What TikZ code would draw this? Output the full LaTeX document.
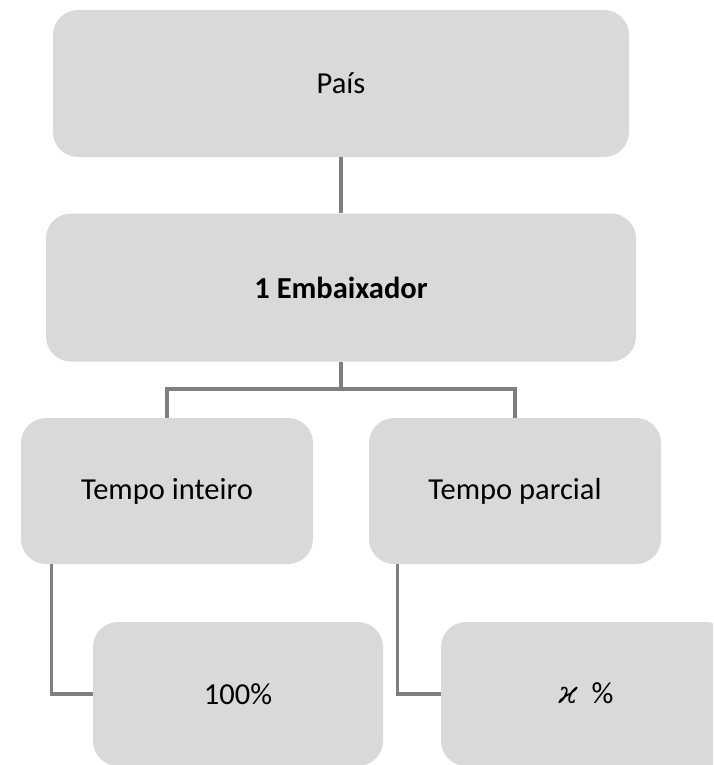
\documentclass[tikz,border=0pt]{standalone}
\usepackage{fontspec}
\setmainfont{Carlito}
\newfontfamily\kappafont{DejaVu Serif}
\definecolor{boxfill}{HTML}{D9D9D9}
\definecolor{linegray}{HTML}{7F7F7F}
\tikzset{
  orgbox/.style={fill=boxfill, draw=none, rounded corners=25pt, inner sep=0pt,
    font=\fontsize{30.5}{36}\selectfont, text=black},
  link/.style={draw=linegray, line width=3.2pt}
}
\begin{document}
\begin{tikzpicture}[x=1pt,y=-1pt]
\useasboundingbox (0,0) rectangle (713,765);
\clip (0,0) rectangle (713,765);
\node[orgbox, minimum width=576pt, minimum height=147pt] (pais) at (341,83.5) {País};
\node[orgbox, minimum width=590pt, minimum height=148pt] (emb) at (341,287.5) {\bfseries 1 Embaixador};
\node[orgbox, minimum width=292pt, minimum height=146pt] (ti) at (167,491) {Tempo inteiro};
\node[orgbox, minimum width=292pt, minimum height=146pt] (tp) at (515,491) {Tempo parcial};
\node[orgbox, minimum width=290pt, minimum height=144pt] (c100) at (238,694) {100\%};
\node[orgbox, minimum width=290pt, minimum height=144pt] (cx) at (586,694) {{\kappafont\itshape ϰ}\ \ \%};
\coordinate (mid) at (341,389);
\draw[link] (pais.south) -- (emb.north);
\draw[link] (emb.south) -- (mid);
\draw[link] (ti.north) |- (mid) -| (tp.north);
\draw[link] ([xshift=31pt]ti.south west) |- (c100.west);
\draw[link] ([xshift=29pt]tp.south west) |- (cx.west);
\end{tikzpicture}
\end{document}
